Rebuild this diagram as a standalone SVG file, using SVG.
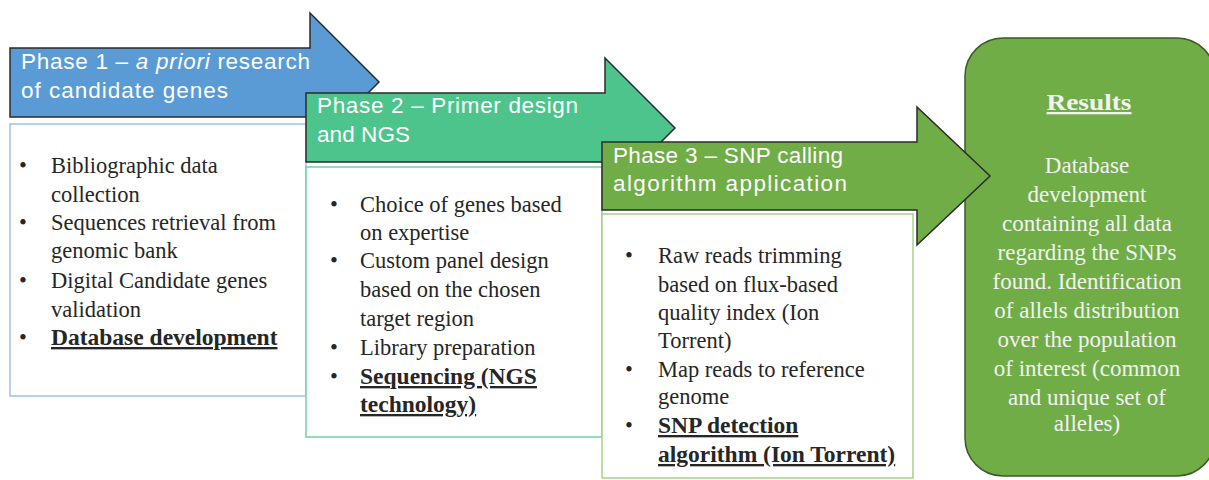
<svg xmlns="http://www.w3.org/2000/svg" width="1209" height="480" viewBox="0 0 1209 480">
<style>
.arrow{stroke:#2b2b2b;stroke-width:1.5;stroke-linejoin:miter}
.hdr{font-family:"Liberation Sans",Arial,sans-serif;font-size:22.5px;fill:#ffffff}
.body{font-family:"Liberation Serif","Times New Roman",serif;font-size:22.5px;fill:#262626}
.res{font-family:"Liberation Serif","Times New Roman",serif;font-size:23px;fill:#f2f2f2;text-anchor:middle}
.b{font-weight:bold;text-decoration:underline}
.body .b{font-size:23.5px}
</style>
<rect width="1209" height="480" fill="#ffffff"/>
<g id="results">
<rect x="965" y="38" width="250" height="438" rx="38" ry="38" fill="#70ad47" stroke="#3d5a2a" stroke-width="1.5"/>
<text class="res b" x="1089" y="110" font-size="24px" textLength="85" lengthAdjust="spacingAndGlyphs">Results</text>
<text class="res" x="1087" y="173">Database</text>
<text class="res" x="1087" y="202">development</text>
<text class="res" x="1087" y="231">containing all data</text>
<text class="res" x="1087" y="260">regarding the SNPs</text>
<text class="res" x="1087" y="289">found. Identification</text>
<text class="res" x="1087" y="318">of allels distribution</text>
<text class="res" x="1087" y="347">over the population</text>
<text class="res" x="1087" y="376">of interest (common</text>
<text class="res" x="1087" y="405">and unique set of</text>
<text class="res" x="1087" y="431">alleles)</text>
</g>
<g id="connectors"></g>
<g id="phase1">
<polygon class="arrow" points="10,48 310,48 310,13 379,82 310,151 310,117 10,117" fill="#5b9bd5"/>
<text class="hdr" x="21" y="69" textLength="289" lengthAdjust="spacing">Phase 1 – <tspan font-style="italic">a priori</tspan> research</text>
<text class="hdr" x="21" y="98" textLength="207" lengthAdjust="spacing">of candidate genes</text>
<rect x="10" y="124" width="296" height="272" fill="#ffffff" stroke="#9dc3e6" stroke-width="1.5"/>
<g class="body">
<text x="19" y="173">•</text><text x="51" y="173">Bibliographic data</text>
<text x="51" y="202">collection</text>
<text x="19" y="230">•</text><text x="51" y="230">Sequences retrieval from</text>
<text x="51" y="258">genomic bank</text>
<text x="19" y="288">•</text><text x="51" y="288">Digital Candidate genes</text>
<text x="51" y="317">validation</text>
<text x="19" y="345">•</text><text class="b" x="51" y="345">Database development</text>
</g>
</g>
<g id="phase2">
<polygon class="arrow" points="306,93 605,93 605,58 675,128 605,198 605,162 306,162" fill="#4cc48c"/>
<text class="hdr" x="317" y="113" textLength="261" lengthAdjust="spacing">Phase 2 – Primer design</text>
<text class="hdr" x="317" y="142" textLength="93" lengthAdjust="spacing">and NGS</text>
<rect x="306" y="167" width="296" height="270" fill="#ffffff" stroke="#6fd3a6" stroke-width="1.5"/>
<g class="body">
<text x="330" y="212">•</text><text x="360" y="212">Choice of  genes based</text>
<text x="360" y="240">on expertise</text>
<text x="330" y="268">•</text><text x="360" y="268">Custom panel design</text>
<text x="360" y="297">based on the chosen</text>
<text x="360" y="326">target region</text>
<text x="330" y="355">•</text><text x="360" y="355">Library preparation</text>
<text x="330" y="384">•</text><text class="b" x="360" y="384">Sequencing (NGS</text>
<text class="b" x="360" y="412">technology)</text>
</g>
</g>
<g id="phase3">
<polygon class="arrow" points="602,142 917,142 917,107 990,176 917,245 917,210 602,210" fill="#70ad47"/>
<text class="hdr" x="613" y="163" textLength="230" lengthAdjust="spacing">Phase 3 – SNP calling</text>
<text class="hdr" x="613" y="191" textLength="234" lengthAdjust="spacing">algorithm application</text>
<rect x="602" y="214" width="311" height="264" fill="#ffffff" stroke="#a9d18e" stroke-width="1.5"/>
<g class="body">
<text x="625" y="263">•</text><text x="658" y="263">Raw reads trimming</text>
<text x="658" y="292">based on flux-based</text>
<text x="658" y="320">quality index (Ion</text>
<text x="658" y="348">Torrent)</text>
<text x="625" y="377">•</text><text x="658" y="377">Map reads to reference</text>
<text x="658" y="404">genome</text>
<text x="625" y="433">•</text><text class="b" x="658" y="433">SNP detection</text>
<text class="b" x="658" y="462">algorithm (Ion Torrent)</text>
</g>
</g>
</svg>
